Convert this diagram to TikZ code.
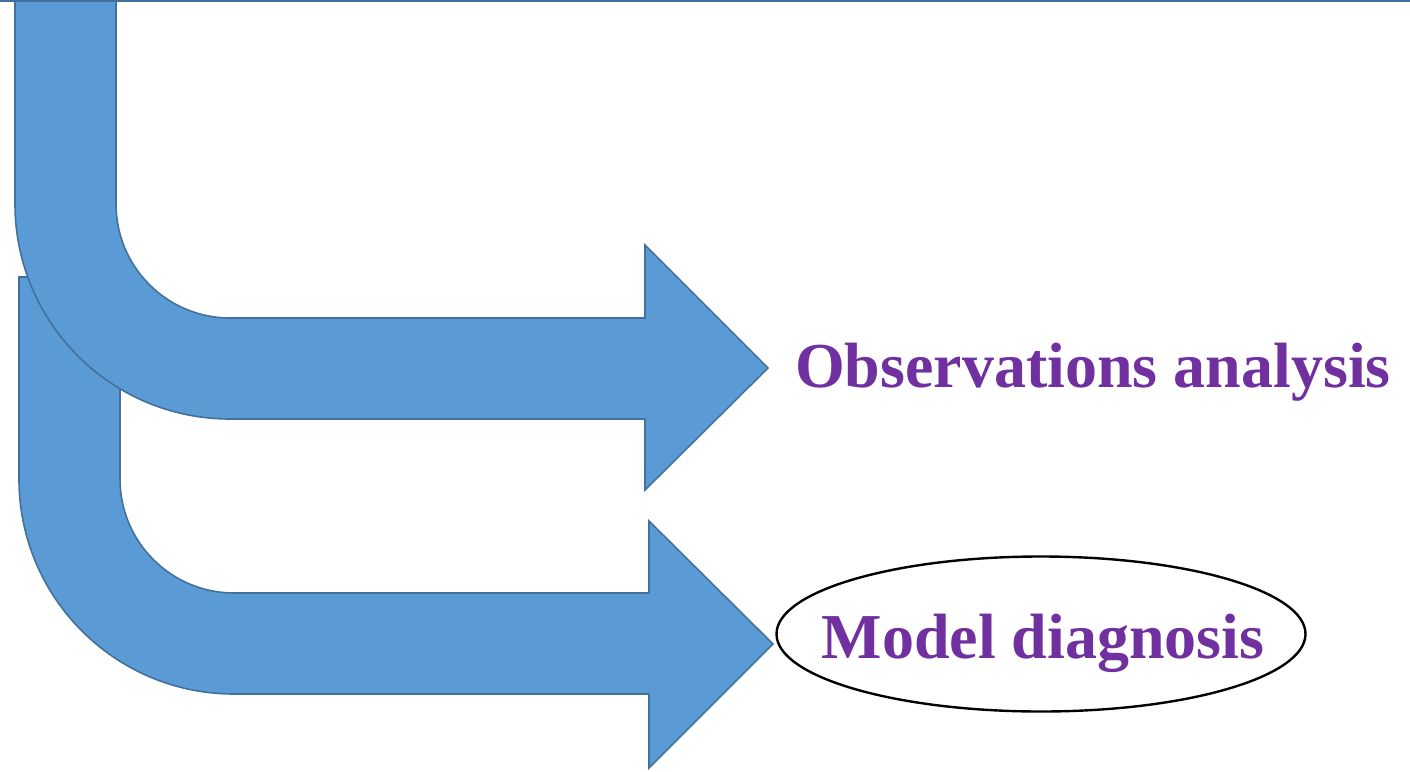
\documentclass[tikz,border=0pt]{standalone}
\usepackage{fontspec}
\setmainfont{Liberation Serif}
\usetikzlibrary{shapes.geometric}
\definecolor{arrowfill}{HTML}{5B9BD5}
\definecolor{arrowline}{HTML}{41719C}
\definecolor{labelpurple}{HTML}{7030A0}
\tikzset{
  bentarrow/.style={fill=arrowfill, draw=arrowline, line width=1.6pt, line join=miter},
  lbl/.style={text=labelpurple, font=\fontsize{64}{70}\selectfont\bfseries, inner sep=0pt},
  ell/.style={ellipse, draw=black, line width=2.4pt, minimum width=529pt, minimum height=155pt, inner sep=0pt}
}
\begin{document}
\begin{tikzpicture}[x=1pt,y=1pt]
\useasboundingbox (0,0) rectangle (1410,-771);
% lower bent arrow (behind)
\path[bentarrow] (19,-277) -- (19,-479) arc[start angle=180, end angle=270, radius=215]
  -- (649,-694) -- (649,-768) -- (773,-644) -- (649,-521) -- (649,-593) -- (234,-593)
  arc[start angle=270, end angle=180, radius=114] -- (120,-277) -- cycle;
% upper bent arrow (in front)
\path[bentarrow] (15,6) -- (15,-204) arc[start angle=180, end angle=270, radius=215]
  -- (645,-419) -- (645,-490) -- (768,-368) -- (645,-245) -- (645,-318) -- (230,-318)
  arc[start angle=270, end angle=180, radius=114] -- (116,6) -- cycle;
% top line
\coordinate (tl) at (0,-1);
\coordinate (tr) at (1410,-1);
\draw[arrowline, line width=2.6pt] (tl) -- (tr);
% labels
\node[lbl, anchor=base] (obs) at (1093,-387) {Observations analysis};
\node[ell] (md) at (1041,-634) {};
\node[lbl, anchor=base] (mdt) at (1043,-658) {Model diagnosis};
\end{tikzpicture}
\end{document}
